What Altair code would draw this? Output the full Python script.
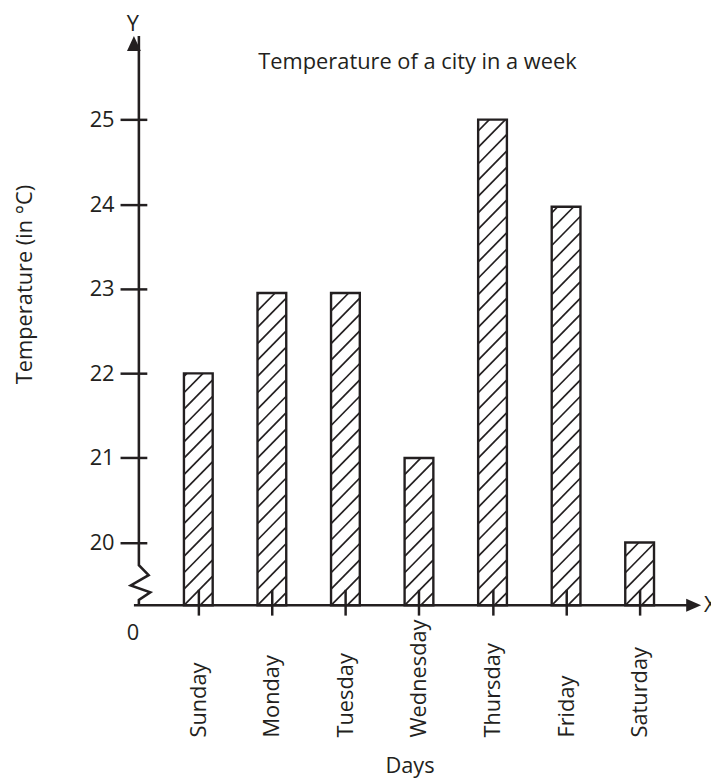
import altair as alt
import pandas as pd

# ---------------- data ----------------
days = ["Sunday", "Monday", "Tuesday", "Wednesday", "Thursday", "Friday", "Saturday"]
temps = [22.0, 22.95, 22.95, 21.0, 25.0, 23.97, 20.0]
y_ticks = [20, 21, 22, 23, 24, 25]

# ---------------- layout / style ----------------
W, H = 572, 574
X_DOM = [-0.808, 6.768]
Y_DOM = [19.259, 25.988]
BAR_PX = 29
HATCH_GAP = 16.5
INK = "#231f20"
FONT = "Open Sans"
FS = 22

px_x = W / (X_DOM[1] - X_DOM[0])
px_y = H / (Y_DOM[1] - Y_DOM[0])

bars = pd.DataFrame({"idx": list(range(len(days))), "day": days, "temp": temps})

# hatch segments (45 degree lines) derived from each bar's value
segs = []
for i, t in enumerate(temps):
    bh = (t - Y_DOM[0]) * px_y
    bw = BAR_PX
    k = -int(bw // HATCH_GAP) - 1
    while k * HATCH_GAP <= bh:
        b = k * HATCH_GAP
        u0 = max(0.0, -b)
        u1 = min(bw, bh - b)
        if u1 > u0 + 0.5:
            segs.append({
                "x": i + (u0 - bw / 2) / px_x,
                "x2": i + (u1 - bw / 2) / px_x,
                "y": Y_DOM[0] + (u0 + b) / px_y,
                "y2": Y_DOM[0] + (u1 + b) / px_y,
            })
        k += 1
hatch = pd.DataFrame(segs)

# y axis line with the break zig-zag (pixel offsets from plot top-left)
zz_px = [0, 0, 10, -8.3, 11.7, 0, 0]
zz_py = [0, 533.7, 543.7, 554, 561, 568.7, 574]
axis_line = pd.DataFrame({
    "x": [X_DOM[0] + p / px_x for p in zz_px],
    "y": [Y_DOM[1] - p / px_y for p in zz_py],
    "o": list(range(len(zz_px))),
})

xscale = alt.Scale(domain=X_DOM, nice=False, zero=False)
yscale = alt.Scale(domain=Y_DOM, nice=False, zero=False)

names_js = "[" + ",".join("'%s'" % d for d in days) + "]"

x_axis = alt.Axis(
    values=list(range(len(days))), labelExpr=names_js + "[datum.value]",
    labelAngle=270, labelAlign="left", labelBaseline="middle", labelPadding=123,
    labelFont=FONT, labelFontSize=FS, labelColor=INK, labelOverlap=False, labelFlush=False,
    tickSize=26, tickWidth=2.5, tickColor=INK, offset=-16, domain=False, grid=False,
    zindex=1,
    title="Days", titleX=278, titleY=185, titleAlign="center", titleBaseline="alphabetic",
    titleFont=FONT, titleFontSize=FS, titleFontWeight="normal", titleColor=INK,
)
y_axis = alt.Axis(
    values=y_ticks, format="d", offset=-13, tickSize=27, tickWidth=2.5, tickColor=INK,
    domain=False, grid=False, labelPadding=6, labelFont=FONT, labelFontSize=FS,
    labelColor=INK, labelFlush=False, zindex=1,
    title="Temperature (in °C)", titleAngle=270, titleX=-123, titleY=250,
    titleAlign="center", titleBaseline="middle",
    titleFont=FONT, titleFontSize=FS, titleFontWeight="normal", titleColor=INK,
)

base = alt.Chart(bars)

bar_fill = base.mark_bar(size=BAR_PX, color="white").encode(
    x=alt.X("idx:Q", scale=xscale, axis=x_axis),
    y=alt.Y("temp:Q", scale=yscale, axis=y_axis),
    y2=alt.datum(Y_DOM[0]),
)

hatch_layer = alt.Chart(hatch).mark_rule(color=INK, strokeWidth=1.7).encode(
    x="x:Q", x2="x2:Q", y="y:Q", y2="y2:Q"
)

bar_outline = base.mark_bar(size=BAR_PX, filled=False, stroke=INK, strokeWidth=2.4).encode(
    x="idx:Q", y="temp:Q", y2=alt.datum(Y_DOM[0])
)

yline = alt.Chart(axis_line).mark_line(color=INK, strokeWidth=2.6, strokeJoin="miter").encode(
    x="x:Q", y="y:Q", order="o:Q"
)

one = alt.Chart(pd.DataFrame({"k": [0]}))
xline = one.mark_rule(color=INK, strokeWidth=2.6).encode(
    x=alt.value(0), x2=alt.value(W - 10), y=alt.value(H)
)
arrow_up = one.mark_point(shape="M0,-1L-0.93,1L0.93,1Z", filled=True, color=INK,
                          size=225, opacity=1, strokeWidth=0).encode(
    x=alt.value(0), y=alt.value(7.5)
)
arrow_right = one.mark_point(shape="M1,0L-1,-0.87L-1,0.87Z", filled=True, color=INK,
                             size=225, opacity=1, strokeWidth=0).encode(
    x=alt.value(W - 7.5), y=alt.value(H)
)
txt = dict(font=FONT, fontSize=FS, color=INK, baseline="alphabetic")
lab_y = one.mark_text(text="Y", align="center", **txt).encode(x=alt.value(-1), y=alt.value(-5))
lab_x = one.mark_text(text="X", align="left", **txt).encode(x=alt.value(W + 3), y=alt.value(H + 7))
lab_0 = one.mark_text(text="0", align="center", **txt).encode(x=alt.value(-1), y=alt.value(H + 35))

chart = alt.layer(
    bar_fill, hatch_layer, bar_outline, yline, xline, arrow_up, arrow_right,
    lab_y, lab_x, lab_0,
).properties(
    width=W, height=H,
    title=alt.TitleParams(
        "Temperature of a city in a week", font=FONT, fontSize=FS, fontWeight="normal",
        color=INK, anchor="middle", frame="group", baseline="alphabetic", offset=0, dy=78,
    ),
    autosize=alt.AutoSizeParams(type="none"),
    padding={"left": 127, "top": 25, "right": 10, "bottom": 173},
).configure(background="white", view=alt.ViewConfig(stroke=None))

chart.save("out.html", embed_options={"renderer": "svg", "actions": False})
